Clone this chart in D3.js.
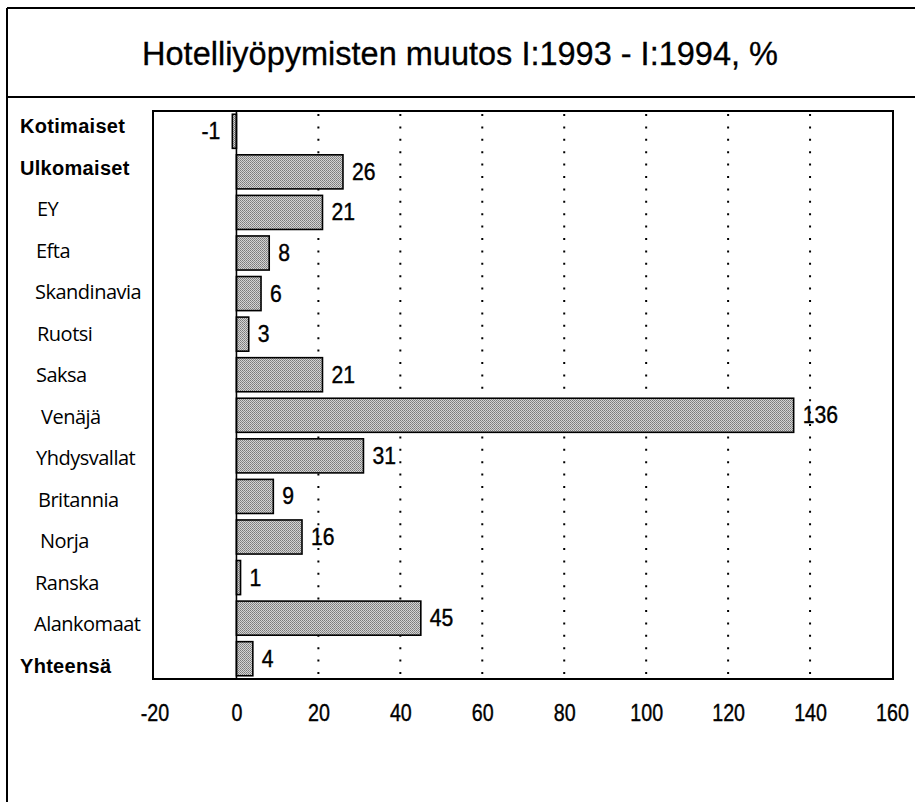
<!DOCTYPE html>
<html><head><meta charset="utf-8">
<script src="https://cdn.jsdelivr.net/npm/d3@7"></script>
<style>body{margin:0;background:#fff}svg{display:block}</style>
</head><body>
<svg id="c" width="915" height="802"></svg>
<script>
const categories = ["Kotimaiset","Ulkomaiset","EY","Efta","Skandinavia","Ruotsi","Saksa","Venäjä","Yhdysvallat","Britannia","Norja","Ranska","Alankomaat","Yhteensä"];
const values = [-1,26,21,8,6,3,21,136,31,9,16,1,45,4];
const boldRows = ["Kotimaiset","Ulkomaiset","Yhteensä"];
const labelIndent = [20,20,37,36,35,37,36,41,36,38,40,35,34,20];
const tickValues = [-20,0,20,40,60,80,100,120,140,160];
const title = "Hotelliyöpymisten muutos I:1993 - I:1994, %";

const svg = d3.select("#c");
const sans = "'Liberation Sans',Arial,sans-serif";
const L = 153, R = 893, T = 111, B = 679;
const sx = 0.82, sv = 0.9;

// dithered grey fill
const pat = svg.append("defs").append("pattern").attr("id","dither")
  .attr("width",2).attr("height",2).attr("patternUnits","userSpaceOnUse");
pat.append("rect").attr("width",2).attr("height",2).attr("fill","#d4d4d4");
pat.append("rect").attr("width",1).attr("height",1).attr("fill","#7a7a7a");
pat.append("rect").attr("x",1).attr("y",1).attr("width",1).attr("height",1).attr("fill","#8c8c8c");

const x = d3.scaleLinear().domain([-20,160]).range([L+1.5, R-1]);
const y = d3.scaleBand().domain(categories).range([T, B]).paddingInner(0.16).paddingOuter(0.08);
const yLabel = d3.scalePoint().domain(categories).range([133, 673]);

// outer border
svg.append("line").attr("x1",7).attr("x2",915).attr("y1",8).attr("y2",8).attr("stroke","#000").attr("stroke-width",2);
svg.append("line").attr("x1",7).attr("x2",7).attr("y1",8).attr("y2",802).attr("stroke","#000").attr("stroke-width",2);
svg.append("line").attr("x1",7).attr("x2",915).attr("y1",97).attr("y2",97).attr("stroke","#000").attr("stroke-width",2);

svg.append("text").attr("transform","translate(460,65)").attr("text-anchor","middle")
  .attr("font-family",sans).attr("font-size",32.5).attr("fill","#000")
  .attr("stroke","#000").attr("stroke-width",0.3).text(title);

// gridlines
svg.append("g").selectAll("line").data(tickValues.filter(d=>d>0 && d<160)).join("line")
  .attr("x1",d=>x(d)).attr("x2",d=>x(d)).attr("y1",T+3).attr("y2",B)
  .attr("stroke","#000").attr("stroke-width",2).attr("stroke-dasharray","2,10.4");

// bars
svg.append("g").selectAll("rect").data(values).join("rect")
  .attr("x",d=>x(Math.min(0,d)))
  .attr("y",(d,i)=>y(categories[i]))
  .attr("width",d=>Math.abs(x(d)-x(0)))
  .attr("height",y.bandwidth())
  .attr("fill","url(#dither)").attr("stroke","#000").attr("stroke-width",1.6);

// zero line
svg.append("line").attr("x1",x(0)).attr("x2",x(0)).attr("y1",T).attr("y2",B).attr("stroke","#000").attr("stroke-width",1.6);

// frame
svg.append("rect").attr("x",L).attr("y",T).attr("width",R-L).attr("height",B-T)
  .attr("fill","none").attr("stroke","#000").attr("stroke-width",2);

// value labels
svg.append("g").selectAll("text").data(values).join("text")
  .attr("transform",(d,i)=>`translate(${d<0 ? x(d)-12 : x(d)+9},${y(categories[i])+y.bandwidth()/2+8}) scale(${sv},1)`)
  .attr("text-anchor",d=>d<0?"end":"start")
  .attr("font-family",sans).attr("font-size",23.5).attr("fill","#000")
  .attr("stroke","#000").attr("stroke-width",0.4)
  .text(d=>String(d));

// category labels
svg.append("g").selectAll("text").data(categories).join("text")
  .attr("x",(d,i)=>labelIndent[i])
  .attr("y",d=>yLabel(d))
  .attr("font-family",d=>boldRows.includes(d)?sans:"'Open Sans','DejaVu Sans',sans-serif")
  .attr("font-weight",d=>boldRows.includes(d)?"bold":"normal")
  .attr("font-size",20)
  .attr("letter-spacing",d=>boldRows.includes(d)?0.3:-0.5)
  .attr("fill","#000").text(d=>d);

// x axis
const ax = svg.append("g").attr("transform",`translate(0,${B})`)
  .call(d3.axisBottom(x).tickValues(tickValues).tickSize(0).tickPadding(25).tickFormat(d=>String(d)));
ax.select(".domain").remove();
ax.selectAll("text").attr("font-family",sans).attr("font-size",24).attr("fill","#000")
  .attr("stroke","#000").attr("stroke-width",0.4)
  .attr("transform",`scale(${sx},1)`);
</script>
</body></html>
